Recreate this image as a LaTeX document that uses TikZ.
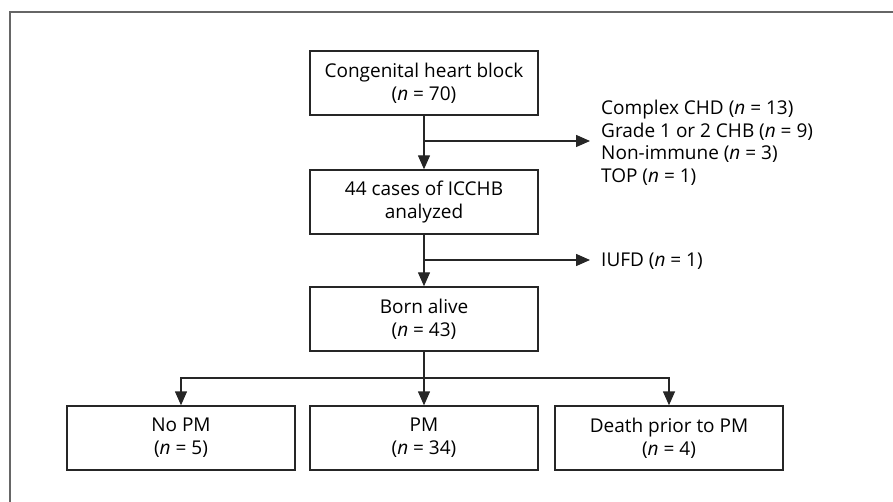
\documentclass[tikz,border=0pt]{standalone}
\usepackage{fontspec}
\setmainfont{Open Sans}
\usetikzlibrary{arrows.meta}
\tikzset{
  x=1pt, y=-1pt,
  box/.style={draw=black!85, line width=1.4pt, minimum width=228pt, minimum height=64pt, inner sep=0pt, align=center, font=\fontsize{19}{23}\selectfont},
  conn/.style={draw=black!85, line width=1.4pt},
  arr/.style={conn, -{Triangle[length=14pt,width=12pt]}},
  note/.style={anchor=west, align=left, inner sep=0pt, font=\fontsize{19}{22.5}\selectfont},
}
\begin{document}
\begin{tikzpicture}
\useasboundingbox (0,0) rectangle (893,502);
\clip (0,0) rectangle (893,502);
\draw[draw=black!60, line width=1.5pt] (10,510) -- (10,12) -- (900,12);
\node[box] (chb) at (424,83) {Congenital heart block\\(\textit{n} = 70)};
\node[box] (icchb) at (424,202) {44 cases of ICCHB\\analyzed};
\node[box] (born) at (424,319) {Born alive\\(\textit{n} = 43)};
\node[box] (nopm) at (181,438) {No PM\\(\textit{n} = 5)};
\node[box] (pm) at (424,438) {PM\\(\textit{n} = 34)};
\node[box] (death) at (669,438) {Death prior to PM\\(\textit{n} = 4)};
\node[note] (excl) at (601,143) {Complex CHD (\textit{n} = 13)\\Grade 1 or 2 CHB (\textit{n} = 9)\\Non-immune (\textit{n} = 3)\\TOP (\textit{n} = 1)};
\node[note] (iufd) at (601,261) {IUFD (\textit{n} = 1)};
\coordinate (b1) at (424,141);
\coordinate (e1) at (590,141);
\coordinate (b2) at (424,260);
\coordinate (e2) at (590,260);
\coordinate (sp) at (424,378);
\draw[arr] (chb) -- (icchb);
\draw[arr] (b1) -- (e1);
\draw[arr] (icchb) -- (born);
\draw[arr] (b2) -- (e2);
\draw[arr] (born) -- (pm);
\draw[arr] (sp) -| (nopm.north);
\draw[arr] (sp) -| (death.north);
\end{tikzpicture}
\end{document}
